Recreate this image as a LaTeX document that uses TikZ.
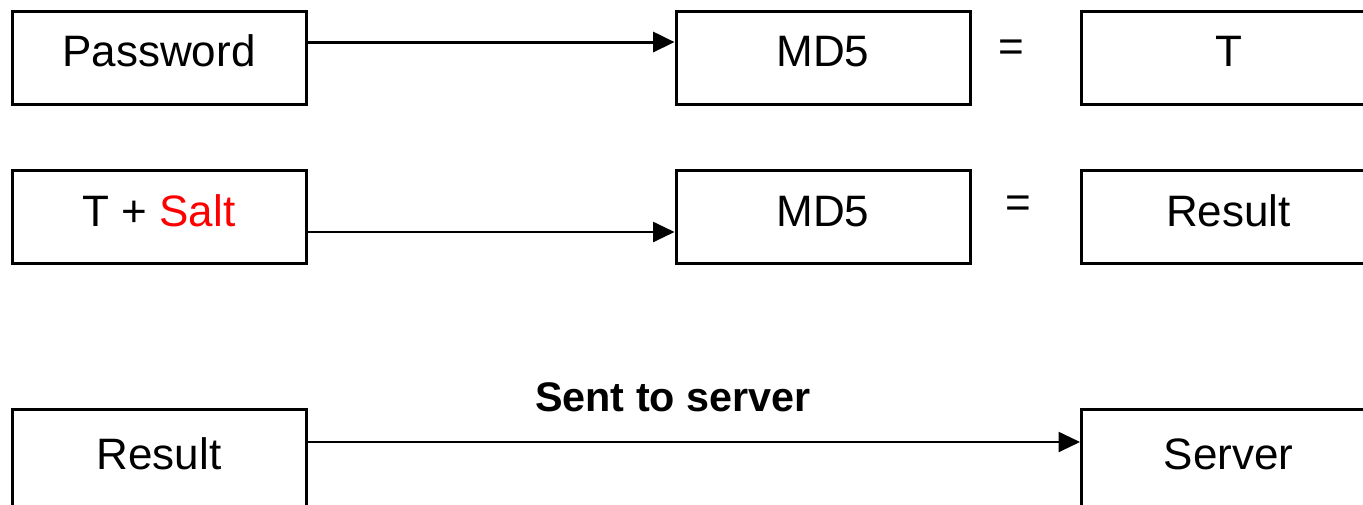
\documentclass[tikz,border=0pt]{standalone}
\usepackage{fontspec}
\setmainfont{Liberation Sans}
\usetikzlibrary{arrows.meta}
\begin{document}
\begin{tikzpicture}[x=0.75pt,y=-0.75pt,
    caja/.style={draw,line width=2.25pt,inner sep=0pt,
        minimum width=220.5pt,minimum height=69.75pt,
        font=\fontsize{33}{38}\selectfont,text height=24pt,text depth=10.5pt},
    igual/.style={font=\fontsize{33}{38}\selectfont,text height=24pt,text depth=10.5pt,inner sep=0pt},
    flecha/.style={-{Triangle[length=16pt,width=15pt]},line width=1.5pt}]
    	%marco
    	\useasboundingbox (0,0) rectangle (1363,504);
    	\clip (0,0) rectangle (1363,504);
    	%%%% FILA 1
    	\node[caja] at (159,57.5) (pass) {Password};
    	\node[caja] at (823,57.5) (mdA) {MD5};
    	\node[igual] at (1011,52) (eqA) {=};
    	\node[caja] at (1228.5,57.5) (tA) {T};
    	\draw [flecha,line width=2.25pt] ([yshift=11.6pt]pass.east) -- ([yshift=11.6pt]mdA.west);
    	%%%% FILA 2
    	\node[caja] at (159,217) (ts) {T + \textcolor{red}{Salt}};
    	\node[caja] at (823,217) (mdB) {MD5};
    	\node[igual] at (1018,208) (eqB) {=};
    	\node[caja] at (1228.5,217) (resA) {Result};
    	\draw [flecha] ([yshift=-11.25pt]ts.east) -- ([yshift=-11.25pt]mdB.west);
    	%%%% FILA 3 (servidor), cajas cortadas abajo
    	\node[caja,minimum height=75.75pt] at (159,460) (resB) {Result};
    	\node[caja,minimum height=75.75pt] at (1228.5,460) (srv) {Server};
    	\draw [flecha] ([yshift=13.5pt]resB.east) -- ([yshift=13.5pt]srv.west);
    	\node[font=\bfseries\fontsize{31}{36}\selectfont] at (673,397) (sent) {Sent to server};
\end{tikzpicture}
\end{document}
